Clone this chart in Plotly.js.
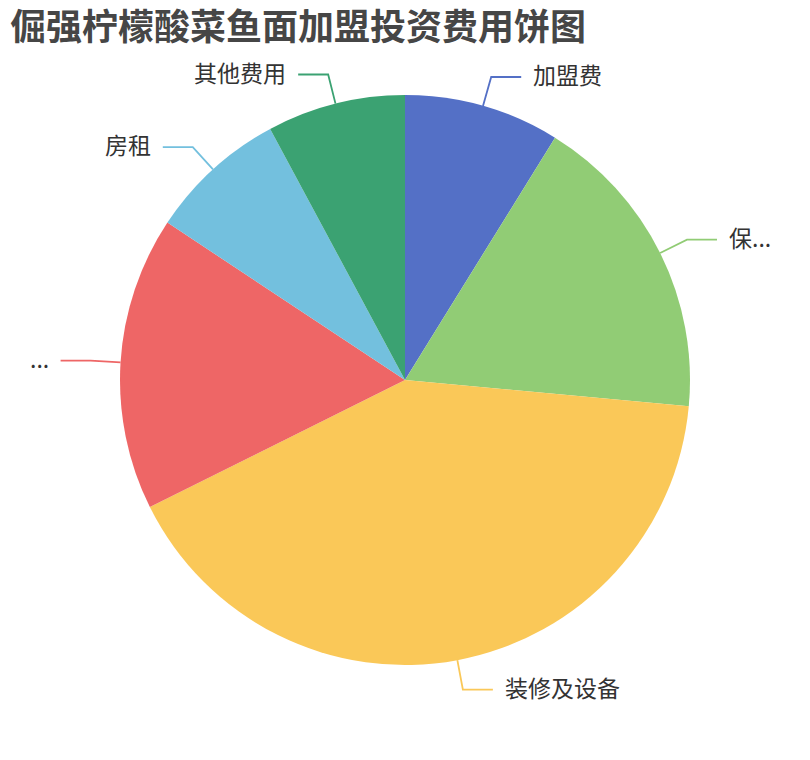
<!DOCTYPE html>
<html>
<head>
<meta charset="utf-8">
<script src="https://cdn.plot.ly/plotly-3.0.1.min.js"></script>
<style>
  html, body { margin: 0; padding: 0; background: #fff; }
  #chart { width: 810px; height: 760px; }
</style>
</head>
<body>
<div id="chart"></div>
<script>
const titleText = '倔强柠檬酸菜鱼面加盟投资费用饼图'
const labels = ['加盟费', '保...', '装修及设备', '...', '房租', '其他费用']
const values = [4.5, 9, 21, 8.5, 4, 4]
const colors = ['#5470c6', '#91cc75', '#fac858', '#ee6666', '#73c0de', '#3ba272']

const W = 810
const H = 760
const cx = 405
const cy = 380
const R = 285
const len1 = 30
const len2 = 30
const gap = 10

const px = x => x / W
const py = y => 1 - y / H

const total = values.reduce((a, v) => a + v, 0)
const shapes = []
const annotations = []
let acc = 0
values.forEach((v, i) => {
  const mid = ((acc + v / 2) / total) * 2 * Math.PI
  acc += v
  const s = Math.sin(mid)
  const c = Math.cos(mid)
  const x0 = cx + R * s
  const y0 = cy - R * c
  const x1 = cx + (R + len1) * s
  const y1 = cy - (R + len1) * c
  const dir = s >= 0 ? 1 : -1
  const x2 = x1 + dir * len2
  shapes.push({
    type: 'path',
    xref: 'paper',
    yref: 'paper',
    path: `M ${px(x0)} ${py(y0)} L ${px(x1)} ${py(y1)} L ${px(x2)} ${py(y1)}`,
    line: { color: colors[i], width: 1.8 },
  })
  // text sits a touch above the leader line, like the original
  annotations.push({
    xref: 'paper',
    yref: 'paper',
    x: px(x2 + dir * gap),
    y: py(y1 - 3),
    xanchor: dir > 0 ? 'left' : 'right',
    yanchor: 'middle',
    text: labels[i],
    showarrow: false,
    font: { size: 23, color: '#333', family: 'Noto Sans CJK SC, sans-serif' },
  })
})

Plotly.newPlot(
  'chart',
  [
    {
      type: 'pie',
      labels,
      values,
      sort: false,
      direction: 'clockwise',
      rotation: 0,
      marker: { colors, line: { width: 0 } },
      textinfo: 'none',
      hoverinfo: 'label+value+percent',
      domain: { x: [px(cx - R), px(cx + R)], y: [py(cy + R), py(cy - R)] },
    },
  ],
  {
    width: W,
    height: H,
    margin: { l: 0, r: 0, t: 0, b: 0 },
    showlegend: false,
    paper_bgcolor: '#fff',
    title: {
      text: `<b>${titleText}</b>`,
      x: 10 / W,
      xanchor: 'left',
      xref: 'container',
      y: 1 - 27 / H,
      yanchor: 'middle',
      yref: 'container',
      font: { size: 36, color: '#464646', family: 'Noto Sans CJK SC, sans-serif' },
    },
    shapes,
    annotations,
  },
  { displayModeBar: false },
)
</script>
</body>
</html>
